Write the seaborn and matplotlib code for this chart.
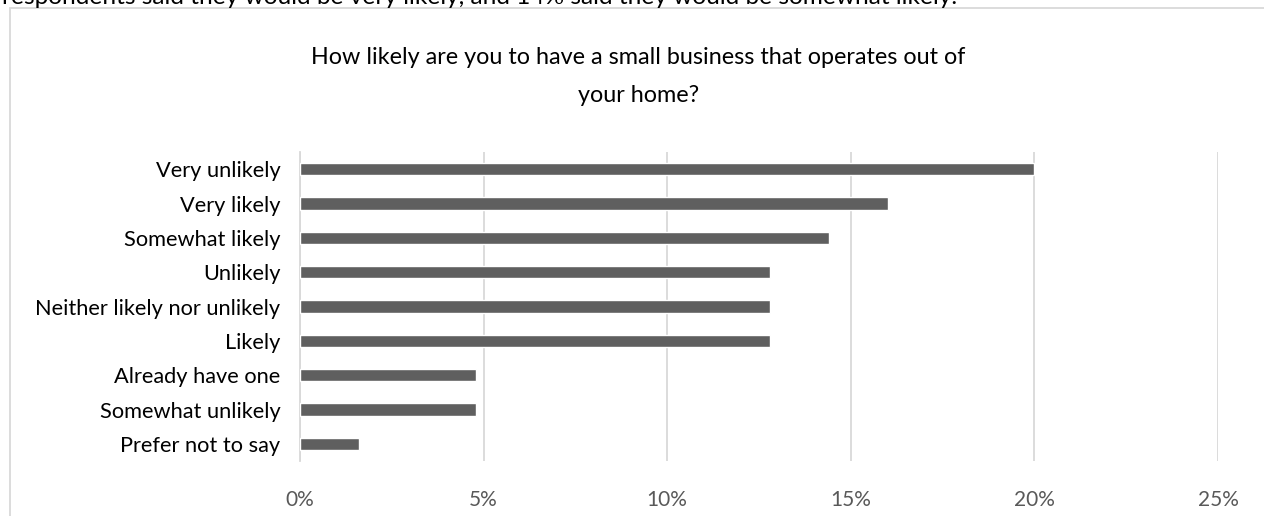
import matplotlib
matplotlib.use("Agg")
import matplotlib.pyplot as plt
import seaborn as sns
import pandas as pd
from matplotlib.patches import Rectangle
from matplotlib.ticker import FuncFormatter

categories = [
    "Very unlikely",
    "Very likely",
    "Somewhat likely",
    "Unlikely",
    "Neither likely nor unlikely",
    "Likely",
    "Already have one",
    "Somewhat unlikely",
    "Prefer not to say",
]
shares = [0.200, 0.160, 0.144, 0.128, 0.128, 0.128, 0.048, 0.048, 0.016]
x_ticks = [0.0, 0.05, 0.10, 0.15, 0.20, 0.25]

title = "How likely are you to have a small business that operates out of\nyour home?"
lead_text = "respondents said they would be very likely, and 14% said they would be somewhat likely."

df = pd.DataFrame({"category": categories, "share": shares})

sns.set_theme(style="white")
plt.rcParams["font.family"] = ["Lato", "DejaVu Sans"]

W, H = 1264, 516
fig = plt.figure(figsize=(W / 100, H / 100), dpi=100)
fig.patch.set_facecolor("white")

# chart frame (extends past the right and bottom edges)
fig.patches.append(Rectangle((9.5 / W, -0.1), 1.2, (H - 7.5) / H + 0.1,
                             transform=fig.transFigure, fill=False,
                             edgecolor="#d9d9d9", linewidth=1.3, zorder=0))

# sentence from the surrounding document, running off the top edge
fig.text(2 / W, 1 - 3.5 / H, lead_text, ha="left", va="baseline",
         fontsize=17.6, color="black")

ax = fig.add_axes([300 / W, (H - 461) / H, (1218 - 300) / W, (461 - 152) / H])
sns.barplot(data=df, x="share", y="category", orient="h", color="#5f5f5f",
            saturation=1, width=0.36, ax=ax, zorder=3)

ax.set_xlim(0, 0.25)
ax.set_xticks(x_ticks)
ax.xaxis.set_major_formatter(FuncFormatter(lambda v, _: f"{v * 100:.0f}%"))
ax.grid(axis="x", color="#d9d9d9", linewidth=1.3, zorder=0)
ax.set_axisbelow(True)
for s in ["top", "right", "bottom"]:
    ax.spines[s].set_visible(False)
ax.spines["left"].set_color("#d9d9d9")
ax.spines["left"].set_linewidth(1.3)
ax.set_xlabel("")
ax.set_ylabel("")
ax.tick_params(axis="x", length=0, pad=21, labelsize=15, labelcolor="#595959")
ax.tick_params(axis="y", length=0, pad=14, labelsize=15.7, labelcolor="black")

fig.text(0.505, 1 - 58 / H, title.split("\n")[0], ha="center", va="center",
         fontsize=16.8, color="black")
fig.text(0.505, 1 - 95 / H, title.split("\n")[1], ha="center", va="center",
         fontsize=16.8, color="black")

fig.savefig("out.png", dpi=100)
